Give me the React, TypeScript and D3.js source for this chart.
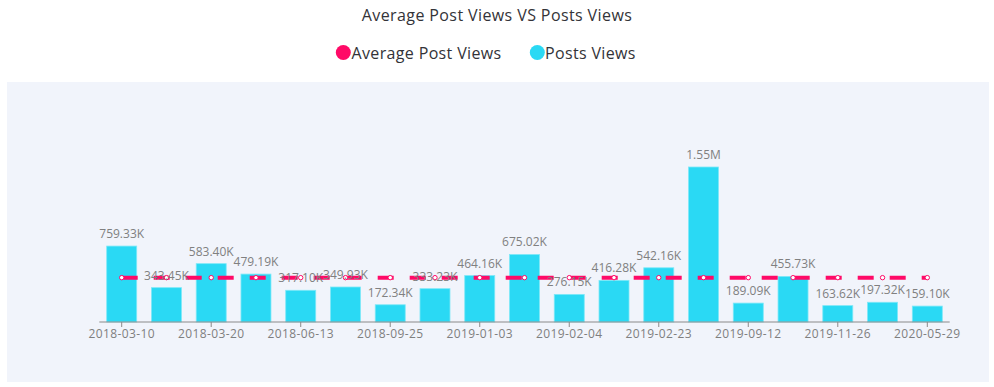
import React from "react";
import * as d3 from "d3";

const categories = [
  "2018-03-10", "2018-03-15", "2018-03-20", "2018-04-18", "2018-06-13", "2018-08-02",
  "2018-09-25", "2018-11-20", "2019-01-03", "2019-01-21", "2019-02-04", "2019-02-12",
  "2019-02-23", "2019-05-10", "2019-09-12", "2019-10-08", "2019-11-26", "2020-02-14",
  "2020-05-29",
];
const postsViews = [
  759330, 343450, 583400, 479190, 317100, 349930, 172340, 333230, 464160, 675020,
  276150, 416280, 542160, 1550000, 189090, 455730, 163620, 197320, 159100,
];
const averageViews = [
  443500, 443500, 443500, 443500, 443500, 443500, 443500, 443500, 443500, 443500,
  443500, 443500, 443500, 443500, 443500, 443500, 443500, 443500, 443500,
];
const seriesNames = ["Average Post Views", "Posts Views"];

const W = 994;
const H = 387;
const FONT = "'Open Sans', sans-serif";
const PINK = "#ff0a67";
const CYAN = "#2ad9f4";

function fmt(v: number) {
  if (v >= 1e6) return (v / 1e6).toFixed(2).replace(/0$/, "").replace(/\.$/, "") + "M";
  return (v / 1e3).toFixed(2) + "K";
}

export default function App() {
  const xc = d3.scalePoint<string>().domain(categories).range([121.7, 927.3]);
  const y = d3.scaleLinear().domain([0, 1600000]).range([322, 162]);
  const bw = 30;
  const line = d3.line<number>().x((_, i) => xc(categories[i])!).y((d) => y(d));

  return (
    <svg width={W} height={H} style={{ position: "absolute", left: 0, top: 0 }} fontFamily={FONT}>
      <rect x={0} y={0} width={W} height={H} fill="#fff" />
      <rect x={7} y={82} width={982} height={300} fill="#f1f4fb" />
      <text x={497} y={20.5} textAnchor="middle" fontSize={16} letterSpacing={0.4} fill="#333338">
        Average Post Views VS Posts Views
      </text>
      <g>
        <circle cx={343.3} cy={52.5} r={7.5} fill={PINK} />
        <text x={351.5} y={58.5} fontSize={16} letterSpacing={0.35} fill="#333338">{seriesNames[0]}</text>
        <circle cx={537.3} cy={52.5} r={7.5} fill={CYAN} />
        <text x={545} y={58.5} fontSize={16} letterSpacing={0.35} fill="#333338">{seriesNames[1]}</text>
      </g>
      {postsViews.map((v, i) => (
        <rect
          key={"b" + i}
          x={xc(categories[i])! - bw / 2}
          y={y(v)}
          width={bw}
          height={y(0) - y(v)}
          fill={CYAN}
          stroke="#7ee8f8"
          strokeWidth={0.8}
        />
      ))}
      <line x1={99.3} x2={949.7} y1={322} y2={322} stroke="#8a8a8a" strokeWidth={1} />
      {categories.map((c, i) =>
        i % 2 === 0 ? (
          <g key={"t" + i}>
            <line x1={xc(c)} x2={xc(c)} y1={322} y2={327} stroke="#8a8a8a" />
            <text x={xc(c)} y={338} textAnchor="middle" fontSize={12} letterSpacing={0.4} fill="#7f7f7f">{c}</text>
          </g>
        ) : null
      )}
      <path d={line(averageViews)!} fill="none" stroke={PINK} strokeWidth={4} strokeDasharray="16,16" />
      {averageViews.map((v, i) => (
        <circle key={"p" + i} cx={xc(categories[i])} cy={y(v)} r={2.2} fill="#fff" stroke={PINK} strokeWidth={1} />
      ))}
      {postsViews.map((v, i) => (
        <text key={"l" + i} x={xc(categories[i])} y={y(v) - 8} textAnchor="middle" fontSize={12} fill="#808080">
          {fmt(v)}
        </text>
      ))}
    </svg>
  );
}
